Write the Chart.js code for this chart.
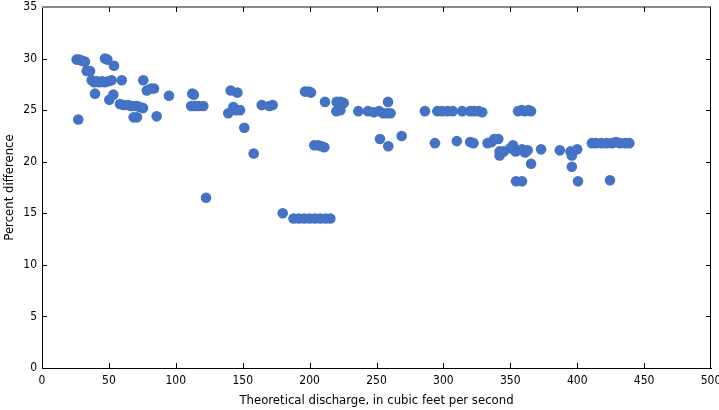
<!DOCTYPE html>
<html>
<head>
<meta charset="utf-8">
<script src="https://cdn.jsdelivr.net/npm/chart.js@4.4.0/dist/chart.umd.min.js"></script>
<style>
  body { margin: 0; background: #fff; }
  #wrap { width: 719px; height: 410px; }
</style>
</head>
<body>
<div id="wrap"><canvas id="chartScatter" width="719" height="410"></canvas></div>
<script>
// theoretical discharge (ft3/s) and percent difference
var discharge = [
  25.9, 27.5, 29.7, 32.1, 33.4, 35.9, 37.1, 39, 41, 43, 45, 47, 49.5, 52,
  39.6, 47.1, 48.8, 53.8, 50.3, 53.3, 59.6, 75.7, 78.3, 81.5, 83.7, 94.9,
  58.3, 61, 64.3, 66.5, 68.8, 71, 73, 75.5, 27.1, 68.5, 71, 85.7,
  112.3, 113.5, 111.5, 114.3, 117, 120.6, 122.6, 141, 146, 143, 139.2, 145, 148,
  151.2, 158.2, 164.2, 172.4, 170, 179.9, 188, 192, 196, 200, 204, 208, 212, 215.5,
  196.6, 199.5, 201, 203.5, 206.5, 209, 211, 211.5, 220.2, 223, 225.5, 220, 223,
  236.4, 243.6, 248, 252, 255, 258, 260.5, 258.6, 252.6, 258.8, 268.8,
  286.2, 295.5, 299, 303, 307, 314, 320, 323, 326.5, 329,
  293.7, 310, 320, 322.5, 333, 336, 338, 341, 342, 342, 345, 350, 352, 354,
  358.7, 361, 363, 354.3, 358.7, 355.8, 358.5, 361, 363.5, 365.5, 365.5,
  373, 387, 395, 396, 396, 400, 400.6,
  411, 414, 418, 422, 426, 429, 432, 436, 439, 424.5
];
var percentDiff = [
  29.9, 29.9, 29.8, 29.7, 28.8, 28.8, 27.9, 27.7, 27.8, 27.7, 27.8, 27.7, 27.8, 27.9,
  26.6, 30.0, 29.9, 29.3, 26.0, 26.5, 27.9, 27.9, 26.9, 27.1, 27.1, 26.4,
  25.6, 25.5, 25.5, 25.4, 25.4, 25.4, 25.3, 25.2, 24.1, 24.3, 24.3, 24.4,
  26.6, 26.5, 25.4, 25.4, 25.4, 25.4, 16.5, 26.9, 26.7, 25.3, 24.7, 25.0, 25.0,
  23.3, 20.8, 25.5, 25.5, 25.4, 15.0, 14.5, 14.5, 14.5, 14.5, 14.5, 14.5, 14.5, 14.5,
  26.8, 26.8, 26.7, 21.6, 21.6, 21.5, 21.4, 25.8, 25.8, 25.8, 25.7, 24.9, 25.0,
  24.9, 24.9, 24.8, 24.9, 24.7, 24.7, 24.7, 25.8, 22.2, 21.5, 22.5,
  24.9, 24.9, 24.9, 24.9, 24.9, 24.9, 24.9, 24.9, 24.9, 24.8,
  21.8, 22.0, 21.9, 21.8, 21.8, 21.9, 22.2, 22.2, 21.0, 20.6, 21.0, 21.3, 21.6, 21.0,
  21.2, 20.9, 21.1, 18.1, 18.1, 24.9, 25.0, 24.9, 25.0, 24.9, 19.8,
  21.2, 21.1, 21.0, 20.6, 19.5, 21.2, 18.1,
  21.8, 21.8, 21.8, 21.8, 21.8, 21.9, 21.8, 21.8, 21.8, 18.2
];
var xRange = [0, 500], xStep = 50;
var yRange = [0, 35], yStep = 5;

var fontFamily = "'Liberation Sans Narrow', 'Arial Narrow', 'DejaVu Sans Condensed', sans-serif";

var points = discharge.map(function(x, i) { return { x: x, y: percentDiff[i] }; });

// frame with ticks pointing into the plot on all four sides
var frameTicks = {
  id: 'frameTicks',
  afterDraw: function(chart) {
    var ctx = chart.ctx, a = chart.chartArea;
    var xs = chart.scales.x, ys = chart.scales.y;
    var len = 5;
    ctx.save();
    ctx.strokeStyle = '#888';
    ctx.lineWidth = 2;
    ctx.beginPath();
    ctx.moveTo(a.left, a.top);
    ctx.lineTo(a.right, a.top);
    ctx.stroke();
    ctx.strokeStyle = '#000';
    ctx.lineWidth = 1;
    ctx.beginPath();
    ctx.moveTo(a.right - 0.5, a.top);
    ctx.lineTo(a.right - 0.5, a.bottom);
    xs.ticks.forEach(function(t) {
      var px = Math.round(xs.getPixelForValue(t.value)) + 0.5;
      if (t.value > xRange[0] && t.value < xRange[1]) {
        ctx.moveTo(px, a.bottom);
        ctx.lineTo(px, a.bottom - len);
        ctx.moveTo(px, a.top);
        ctx.lineTo(px, a.top + len);
      }
    });
    ys.ticks.forEach(function(t) {
      var py = Math.round(ys.getPixelForValue(t.value)) + 0.5;
      if (t.value > yRange[0] && t.value < yRange[1]) {
        ctx.moveTo(a.left, py);
        ctx.lineTo(a.left + len, py);
        ctx.moveTo(a.right, py);
        ctx.lineTo(a.right - len, py);
      }
    });
    ctx.stroke();
    ctx.restore();
  }
};

var chartScatter = new Chart(document.getElementById('chartScatter'), {
  type: 'scatter',
  data: {
    datasets: [{
      label: 'Percent difference',
      data: points,
      backgroundColor: '#4472C4',
      borderWidth: 0,
      pointRadius: 5.3,
      pointHoverRadius: 5.3
    }]
  },
  plugins: [frameTicks],
  options: {
    responsive: false,
    animation: false,
    layout: { padding: 0 },
    plugins: {
      legend: { display: false },
      tooltip: { enabled: false }
    },
    scales: {
      x: {
        type: 'linear',
        min: xRange[0],
        max: xRange[1],
        afterFit: function(scale) {
          scale.height = 42;
          scale.paddingLeft = 0;
          scale.paddingRight = 8;
        },
        ticks: {
          stepSize: xStep,
          color: '#000',
          padding: 6,
          maxRotation: 0,
          font: { family: fontFamily, size: 12 }
        },
        grid: { drawOnChartArea: false, drawTicks: false },
        border: { color: '#000', width: 1 },
        title: {
          display: true,
          text: 'Theoretical discharge, in cubic feet per second',
          color: '#000',
          font: { family: fontFamily, size: 13 },
          padding: { top: 4, bottom: 2 }
        }
      },
      y: {
        min: yRange[0],
        max: yRange[1],
        afterFit: function(scale) {
          scale.width = 42;
          scale.paddingTop = 7;
          scale.paddingBottom = 0;
        },
        ticks: {
          stepSize: yStep,
          color: '#000',
          padding: 5,
          font: { family: fontFamily, size: 12 }
        },
        grid: { drawOnChartArea: false, drawTicks: false },
        border: { color: '#000', width: 1 },
        title: {
          display: true,
          text: 'Percent difference',
          color: '#000',
          font: { family: fontFamily, size: 13 },
          padding: { top: 2, bottom: 0 }
        }
      }
    }
  }
});
</script>
</body>
</html>
